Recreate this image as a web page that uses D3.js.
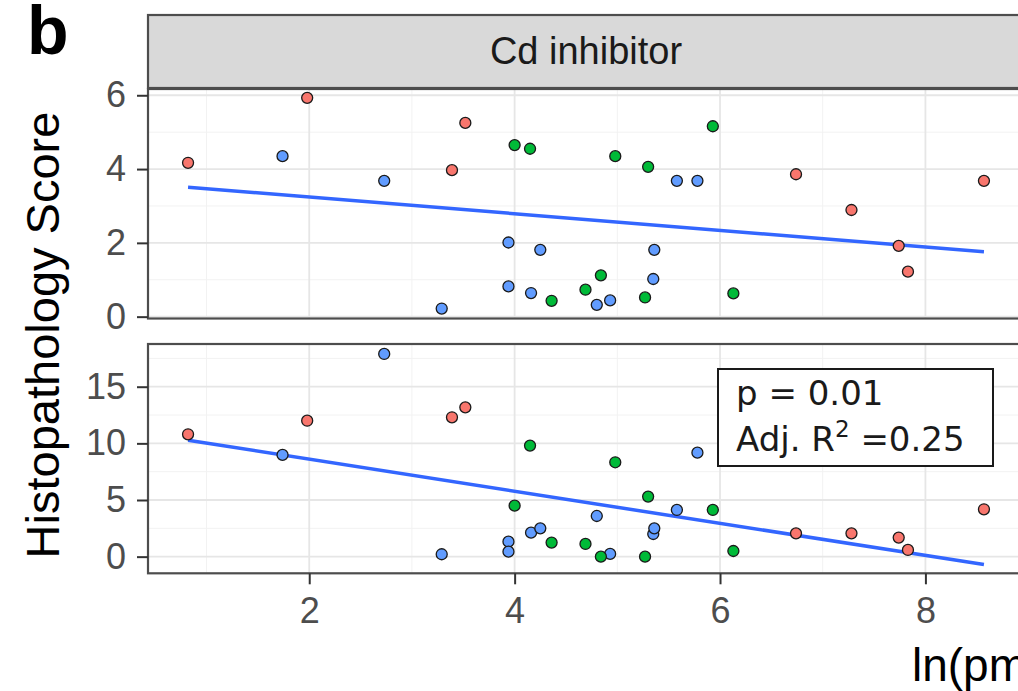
<!DOCTYPE html>
<html>
<head>
<meta charset="utf-8">
<script src="https://cdn.jsdelivr.net/npm/d3@7/dist/d3.min.js"></script>
<style>
  body { margin: 0; background: #fff; }
  text { font-family: "Liberation Sans", Arial, sans-serif; }
</style>
</head>
<body>
<svg width="1018" height="691"></svg>
<script>
// values
var xTicks = [2, 4, 6, 8];
var topTicks = [0, 2, 4, 6];
var bottomTicks = [0, 5, 10, 15];

// red group
var xRed = [0.82, 1.98, 3.39, 3.52, 6.74, 7.28, 7.74, 7.83, 8.57];
var topRed = [4.17, 5.93, 3.97, 5.25, 3.86, 2.89, 1.92, 1.22, 3.68];
var bottomRed = [10.8, 12.0, 12.3, 13.18, 2.06, 2.06, 1.68, 0.59, 4.18];

// blue group
var xBlue = [1.74, 2.73, 3.29, 3.94, 3.94, 4.16, 4.25, 4.80, 4.93, 5.35, 5.36, 5.58, 5.78];
var topBlue = [4.35, 3.68, 0.22, 2.01, 0.82, 0.64, 1.81, 0.32, 0.44, 1.02, 1.81, 3.68, 3.68];
var bottomBlue = [8.98, 17.89, 0.21, 1.32, 0.44, 2.12, 2.50, 3.59, 0.24, 2.0, 2.5, 4.12, 9.18];

// green group
var xGreen = [4.0, 4.15, 4.36, 4.69, 4.84, 4.98, 5.27, 5.30, 5.93, 6.13];
var topGreen = [4.65, 4.55, 0.43, 0.73, 1.12, 4.35, 0.52, 4.06, 5.16, 0.63];
var bottomGreen = [4.5, 9.8, 1.24, 1.12, 0.0, 8.33, 0.0, 5.30, 4.12, 0.5];

var groupColors = {red: "#F8766D", green: "#00BA38", blue: "#619CFF"};

var svg = d3.select("svg");

// turn the arrays into point lists
function points(xs, ys, g) {
  return xs.map(function(x, i) { return {x: x, y: ys[i], g: g}; });
}
var topData = points(xRed, topRed, "red")
  .concat(points(xBlue, topBlue, "blue"))
  .concat(points(xGreen, topGreen, "green"));
var bottomData = points(xRed, bottomRed, "red")
  .concat(points(xBlue, bottomBlue, "blue"))
  .concat(points(xGreen, bottomGreen, "green"));

// layout
var left = 148, right = 1024;
var x = d3.scaleLinear().domain([0.43, 8.96]).range([left, right]);

var yTop = d3.scaleLinear().domain([-0.05, 6.17]).range([318.5, 89]);
var yBottom = d3.scaleLinear().domain([-1.47, 18.77]).range([573.3, 344]);

// least squares line
function fit(data) {
  var mx = d3.mean(data, function(d) { return d.x; });
  var my = d3.mean(data, function(d) { return d.y; });
  var sxy = d3.sum(data, function(d) { return (d.x - mx) * (d.y - my); });
  var sxx = d3.sum(data, function(d) { return (d.x - mx) * (d.x - mx); });
  var b = sxy / sxx;
  var ext = d3.extent(data, function(d) { return d.x; });
  return ext.map(function(v) { return {x: v, y: my + b * (v - mx)}; });
}

function panel(data, y, ticks, minor) {
  var g = svg.append("g");
  var y0 = y.range()[0], y1 = y.range()[1];

  // minor grid
  g.selectAll(".mx").data([1, 3, 5, 7]).enter().append("line")
    .attr("x1", function(d) { return x(d); }).attr("x2", function(d) { return x(d); })
    .attr("y1", y0).attr("y2", y1)
    .attr("stroke", "#F2F2F2").attr("stroke-width", 1);
  g.selectAll(".my").data(minor).enter().append("line")
    .attr("x1", left).attr("x2", right)
    .attr("y1", function(d) { return y(d); }).attr("y2", function(d) { return y(d); })
    .attr("stroke", "#F2F2F2").attr("stroke-width", 1);

  // major grid
  g.selectAll(".gx").data(xTicks).enter().append("line")
    .attr("x1", function(d) { return x(d); }).attr("x2", function(d) { return x(d); })
    .attr("y1", y0).attr("y2", y1)
    .attr("stroke", "#E6E6E6").attr("stroke-width", 1.8);
  g.selectAll(".gy").data(ticks).enter().append("line")
    .attr("x1", left).attr("x2", right)
    .attr("y1", function(d) { return y(d); }).attr("y2", function(d) { return y(d); })
    .attr("stroke", "#E6E6E6").attr("stroke-width", 1.8);

  // regression line
  var line = d3.line().x(function(d) { return x(d.x); }).y(function(d) { return y(d.y); });
  g.append("path").datum(fit(data))
    .attr("d", line)
    .attr("fill", "none")
    .attr("stroke", "#3366FF")
    .attr("stroke-width", 3.5);

  // points
  g.selectAll("circle").data(data).enter().append("circle")
    .attr("cx", function(d) { return x(d.x); })
    .attr("cy", function(d) { return y(d.y); })
    .attr("r", 5.5)
    .attr("fill", function(d) { return groupColors[d.g]; })
    .attr("stroke", "#1a1a1a")
    .attr("stroke-width", 1.3);

  // border
  g.append("rect")
    .attr("x", left).attr("y", y1)
    .attr("width", right - left).attr("height", y0 - y1)
    .attr("fill", "none").attr("stroke", "#4D4D4D").attr("stroke-width", 2.2);

  // y axis
  var ax = svg.append("g")
    .attr("transform", "translate(" + left + ",0)")
    .call(d3.axisLeft(y).tickValues(ticks).tickSize(11).tickPadding(11).tickFormat(d3.format("d")));
  ax.select(".domain").remove();
  ax.selectAll("line").attr("stroke", "#333").attr("stroke-width", 2);
  ax.selectAll("text").attr("font-size", 36).attr("fill", "#4D4D4D")
    .style("font-family", "Liberation Sans, Arial, sans-serif");
  return g;
}

panel(topData, yTop, topTicks, [1, 3, 5]);
panel(bottomData, yBottom, bottomTicks, [2.5, 7.5, 12.5, 17.5]);

// x axis under bottom panel
var xa = svg.append("g")
  .attr("transform", "translate(0,573.3)")
  .call(d3.axisBottom(x).tickValues(xTicks).tickSize(11).tickPadding(13).tickFormat(d3.format("d")));
xa.select(".domain").remove();
xa.selectAll("line").attr("stroke", "#333").attr("stroke-width", 2);
xa.selectAll("text").attr("font-size", 36).attr("fill", "#4D4D4D")
  .style("font-family", "Liberation Sans, Arial, sans-serif");

// facet strip
svg.append("rect")
  .attr("x", left).attr("y", 15)
  .attr("width", right - left).attr("height", 73)
  .attr("fill", "#D9D9D9").attr("stroke", "#4D4D4D").attr("stroke-width", 2.2);
svg.append("text")
  .attr("x", (left + right) / 2).attr("y", 64)
  .attr("text-anchor", "middle")
  .attr("font-size", 38).attr("fill", "#1A1A1A")
  .text("Cd inhibitor");

// stats box in the bottom panel
svg.append("rect")
  .attr("x", 718).attr("y", 369)
  .attr("width", 275).attr("height", 97)
  .attr("fill", "#fff").attr("stroke", "#1a1a1a").attr("stroke-width", 2);
var stat = svg.append("text")
  .attr("font-size", 34).attr("fill", "#1a1a1a")
  .style("font-family", "DejaVu Sans, sans-serif");
stat.append("tspan").attr("x", 736).attr("y", 405).text("p = 0.01");
stat.append("tspan").attr("x", 736).attr("y", 451).text("Adj. R");
stat.append("tspan").attr("dy", -14).attr("font-size", 23).text("2");
stat.append("tspan").attr("dy", 14).text(" =0.25");

// axis titles
svg.append("text")
  .attr("transform", "translate(59,335) rotate(-90)")
  .attr("text-anchor", "middle")
  .attr("font-size", 47).attr("fill", "#000")
  .text("Histopathology Score");
svg.append("text")
  .attr("x", 912).attr("y", 681)
  .attr("font-size", 46).attr("fill", "#000")
  .text("ln(pmol/g)");

// panel letter
svg.append("text")
  .attr("x", 27).attr("y", 54)
  .attr("font-size", 68).attr("font-weight", "bold").attr("fill", "#000")
  .text("b");
</script>
</body>
</html>
